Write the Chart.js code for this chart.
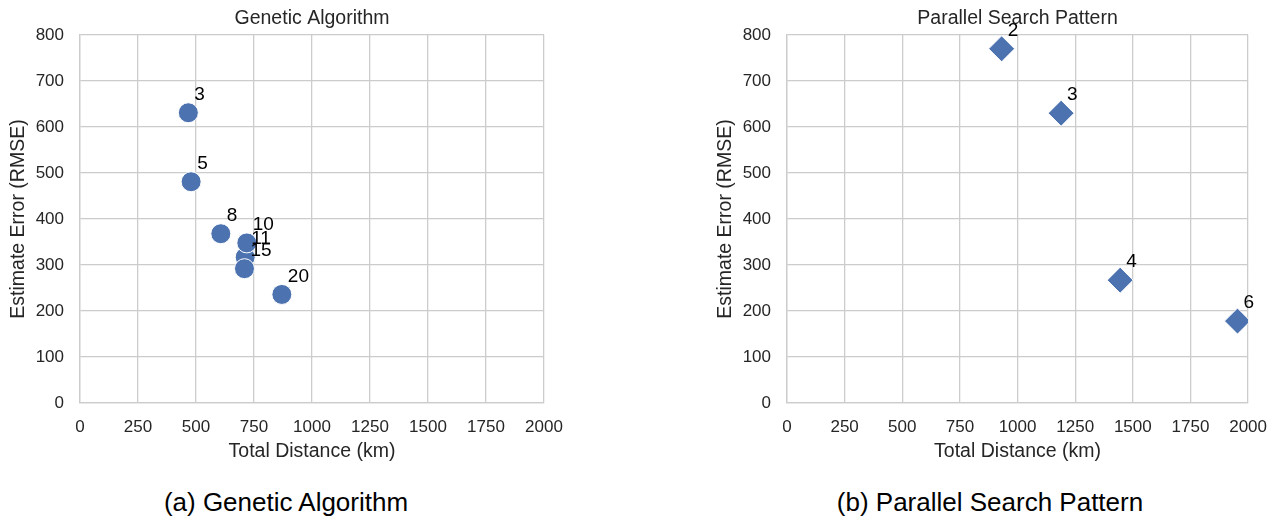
<!DOCTYPE html>
<html>
<head>
<meta charset="utf-8">
<script src="https://cdn.jsdelivr.net/npm/chart.js@4"></script>
<style>
  body { margin: 0; background: #fff; font-family: "Liberation Sans", Arial, sans-serif; }
  #wrap { position: relative; width: 1281px; height: 518px; overflow: hidden; }
  canvas { position: absolute; top: 0; }
  .cap { position: absolute; top: 487px; font-size: 26px; line-height: 30px; color: #000; transform: translateX(-50%); white-space: nowrap; }
</style>
</head>
<body>
<div id="wrap">
  <canvas id="ga" width="640" height="470" style="left:0"></canvas>
  <canvas id="psp" width="641" height="470" style="left:640px"></canvas>
  <div class="cap" style="left:286px">(a) Genetic Algorithm</div>
  <div class="cap" style="left:990px">(b) Parallel Search Pattern</div>
</div>
<script>
// number of drones per run, distance flown, resulting error
const gaLabels = ['3', '5', '8', '11', '10', '15', '20']
const gaDistance = [467, 479, 607, 712, 719, 709, 870]
const gaError = [631, 481, 368, 317, 348, 292, 236]

const pspLabels = ['2', '3', '4', '6']
const pspDistance = [931, 1189, 1445, 1954]
const pspError = [770, 630, 267, 178]

const xMin = 0, xMax = 2000, xStep = 250
const yMin = 0, yMax = 800, yStep = 100

const blue = '#4c72b0'
const grid = '#cccccc'
const ink = '#262626'
const font = '"Liberation Sans", Arial, sans-serif'

// draws the title above the plot and the number next to every point
const extras = {
  id: 'extras',
  afterDatasetsDraw(chart, args, opts) {
    const ctx = chart.ctx
    const area = chart.chartArea
    ctx.save()
    ctx.font = '19.5px ' + font
    ctx.fillStyle = ink
    ctx.textAlign = 'center'
    ctx.textBaseline = 'middle'
    ctx.fillText(opts.title, (area.left + area.right) / 2, area.top - 16)
    ctx.font = '19px ' + font
    ctx.fillStyle = '#000'
    ctx.textAlign = 'left'
    const meta = chart.getDatasetMeta(0)
    meta.data.forEach((pt, i) => {
      ctx.fillText(opts.labels[i], pt.x + 6, pt.y - 18)
    })
    ctx.restore()
  }
}

const makeChart = (id, xs, ys, labels, title, style, radius, padLeft, padRight) => {
  const points = xs.map((x, i) => ({ x: x, y: ys[i] }))
  return new Chart(document.getElementById(id), {
    type: 'scatter',
    data: {
      datasets: [{
        data: points,
        pointStyle: style,
        pointRadius: radius,
        pointHoverRadius: radius,
        backgroundColor: blue,
        borderColor: '#ffffff',
        borderWidth: 1,
        clip: 0
      }]
    },
    plugins: [extras],
    options: {
      responsive: false,
      animation: false,
      layout: { padding: { top: 35, left: padLeft, right: padRight, bottom: 0 } },
      plugins: {
        legend: { display: false },
        tooltip: { enabled: false },
        extras: { title: title, labels: labels }
      },
      scales: {
        x: {
          type: 'linear',
          min: xMin, max: xMax,
          ticks: { stepSize: xStep, color: ink, font: { family: font, size: 17 }, padding: 14, maxRotation: 0, callback: v => String(v) },
          grid: { color: grid, lineWidth: 1.3, drawTicks: false },
          border: { color: grid, width: 1.3 },
          title: { display: true, text: 'Total Distance (km)', color: ink, font: { family: font, size: 19.5 }, padding: { top: 0, bottom: 7 } },
          afterFit: s => { s.height = 67 }
        },
        y: {
          type: 'linear',
          min: yMin, max: yMax,
          ticks: { stepSize: yStep, color: ink, font: { family: font, size: 17 }, padding: 16, callback: v => String(v) },
          grid: { color: grid, lineWidth: 1.3, drawTicks: false },
          border: { color: grid, width: 1.3 },
          title: { display: true, text: 'Estimate Error (RMSE)', color: ink, font: { family: font, size: 19.5 }, padding: { top: 7, bottom: 0 } },
          afterFit: s => { s.width = 80 }
        }
      }
    }
  })
}

makeChart('ga', gaDistance, gaError, gaLabels, 'Genetic Algorithm', 'circle', 10, 0, 96)
makeChart('psp', pspDistance, pspError, pspLabels, 'Parallel Search Pattern', 'rectRot', 13, 67, 31)
</script>
</body>
</html>
